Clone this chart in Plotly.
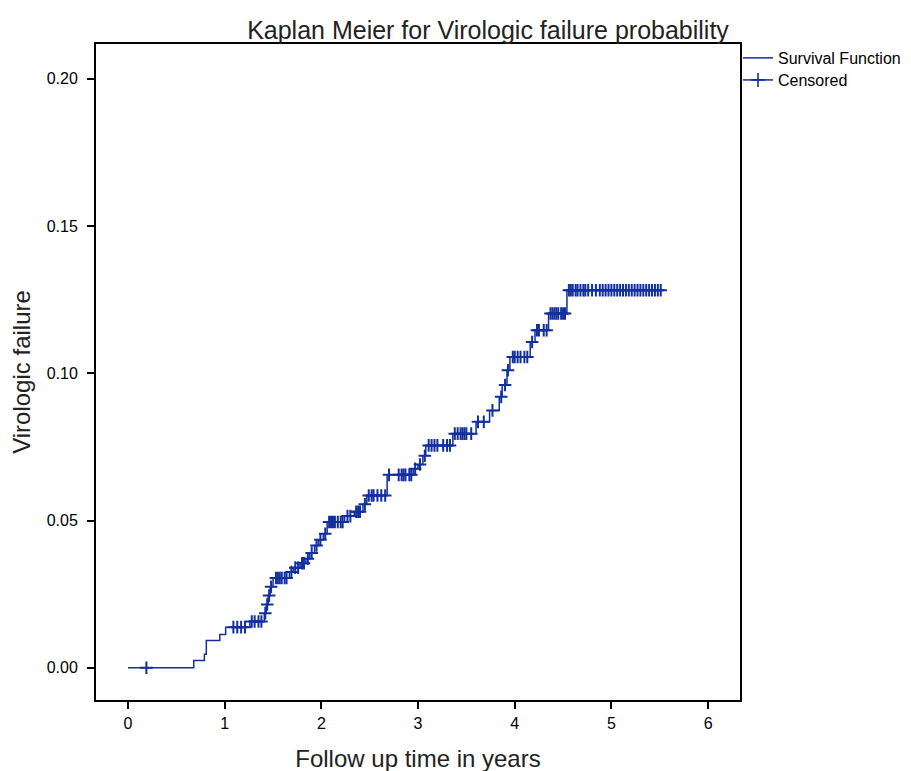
import numpy as np
import plotly.graph_objects as go

# Step (event) times in years and cumulative virologic failure after each event
event_t = [0.68, 0.79, 0.81, 0.95, 1.01, 1.26, 1.41, 1.43, 1.45, 1.47, 1.50, 1.67, 1.71,
           1.78, 1.84, 1.88, 1.93, 1.97, 2.02, 2.06, 2.24, 2.34, 2.43, 2.47, 2.68, 2.95,
           3.00, 3.05, 3.08, 3.36, 3.60, 3.74, 3.84, 3.87, 3.92, 3.95, 4.16, 4.21, 4.35, 4.54]
event_v = [0.0025, 0.0046, 0.0093, 0.0113, 0.0138, 0.0157, 0.0185, 0.0215, 0.0245, 0.0275,
           0.0305, 0.0325, 0.0340, 0.0355, 0.0370, 0.0390, 0.0415, 0.0435, 0.0455, 0.0495,
           0.0515, 0.0530, 0.0555, 0.0585, 0.0655, 0.0676, 0.0690, 0.0720, 0.0755, 0.0795,
           0.0835, 0.0874, 0.0920, 0.0960, 0.1010, 0.1055, 0.1106, 0.1146, 0.1203, 0.1282]
follow_end = 5.53

# Censoring times in years
censor_t = [0.19,
            1.09, 1.13, 1.17, 1.21,
            1.28, 1.31, 1.35, 1.38,
            1.42, 1.44, 1.46, 1.48,
            1.53, 1.55, 1.57, 1.59, 1.62, 1.64,
            1.69, 1.73, 1.76, 1.80, 1.82, 1.86, 1.90, 1.95, 1.99, 2.04,
            2.08, 2.10, 2.12, 2.14, 2.17, 2.20, 2.22,
            2.27, 2.30, 2.36, 2.38, 2.40, 2.45,
            2.49, 2.52, 2.54, 2.58, 2.62, 2.66,
            2.70, 2.80, 2.83, 2.85, 2.87, 2.91, 2.93,
            2.97, 3.02, 3.07,
            3.11, 3.14, 3.17, 3.20, 3.26, 3.30, 3.33,
            3.38, 3.41, 3.44, 3.46, 3.48, 3.50, 3.55,
            3.62, 3.68, 3.77, 3.86, 3.90, 3.93,
            3.98, 4.00, 4.03, 4.06, 4.10, 4.13,
            4.18, 4.23, 4.25, 4.30, 4.33,
            4.37, 4.39, 4.41, 4.43, 4.45, 4.48, 4.50, 4.52,
            4.56, 4.58, 4.60, 4.63, 4.65, 4.68, 4.71, 4.73, 4.76, 4.80, 4.84, 4.88,
            4.91, 4.94, 4.97, 5.00, 5.03, 5.06, 5.09, 5.12, 5.15, 5.18, 5.21, 5.24,
            5.27, 5.30, 5.33, 5.36, 5.39, 5.42, 5.45, 5.48, 5.51]

x_ticks = [0, 1, 2, 3, 4, 5, 6]
y_ticks = [0.00, 0.05, 0.10, 0.15, 0.20]

COLOR = "#122f9f"
FONT = "Liberation Sans, Arial, sans-serif"

curve_t = [0.0] + event_t + [follow_end]
curve_v = [0.0] + event_v + [event_v[-1]]

# value of the step function at each censoring time
et = np.array(event_t)
ev = np.array([0.0] + event_v)
censor_v = ev[np.searchsorted(et, np.array(censor_t), side="right")]

fig = go.Figure()
fig.add_trace(go.Scatter(
    x=curve_t, y=curve_v, mode="lines", line_shape="hv",
    line=dict(color=COLOR, width=1.5), name="Survival Function", legend="legend"))
fig.add_trace(go.Scatter(
    x=censor_t, y=censor_v, mode="markers", showlegend=False,
    marker=dict(symbol="cross-thin", size=9, line=dict(color=COLOR, width=2)),
    name="Censored"))
fig.add_trace(go.Scatter(
    x=[None], y=[None], mode="lines+markers", name="Censored", legend="legend2",
    line=dict(color=COLOR, width=1.5),
    marker=dict(symbol="cross-thin", size=10, line=dict(color=COLOR, width=1.6))))

legend_common = dict(xanchor="left", yanchor="top", font=dict(size=16, color="black"),
                     bgcolor="rgba(0,0,0,0)", borderwidth=0, itemwidth=30)

fig.update_layout(
    width=911, height=771,
    margin=dict(l=88, r=179, t=36, b=79, autoexpand=False),
    paper_bgcolor="white", plot_bgcolor="white",
    font=dict(family=FONT, color="black", size=16),
    title=dict(text="Kaplan Meier for Virologic failure probability",
               x=480 / 911, xanchor="center", y=1 - 22 / 771, yanchor="middle",
               font=dict(size=25, color="#222222")),
    legend=dict(x=0.9969, y=1.0046, **legend_common),
    legend2=dict(x=0.9969, y=0.9710, **legend_common),
    showlegend=True,
)
fig.update_xaxes(
    range=[-0.331, 6.33], tickvals=x_ticks, ticktext=[str(v) for v in x_ticks],
    showgrid=False, zeroline=False, showline=True, linecolor="black", linewidth=2,
    mirror=True, ticks="outside", ticklen=7, tickwidth=2, tickcolor="black",
    tickfont=dict(size=16, color="black"), ticklabelstandoff=1,
    title=dict(text="Follow up time in years", font=dict(size=24, color="#222222"), standoff=19))
fig.update_yaxes(
    range=[-0.01094, 0.2118], tickvals=y_ticks, ticktext=[f"{v:.2f}" for v in y_ticks],
    showgrid=False, zeroline=False, showline=True, linecolor="black", linewidth=2,
    mirror=True, ticks="outside", ticklen=7, tickwidth=2, tickcolor="black",
    tickfont=dict(size=16, color="black"), ticklabelstandoff=6,
    title=dict(text="Virologic failure", font=dict(size=24, color="#222222"), standoff=17))

fig.write_html("out.html")
